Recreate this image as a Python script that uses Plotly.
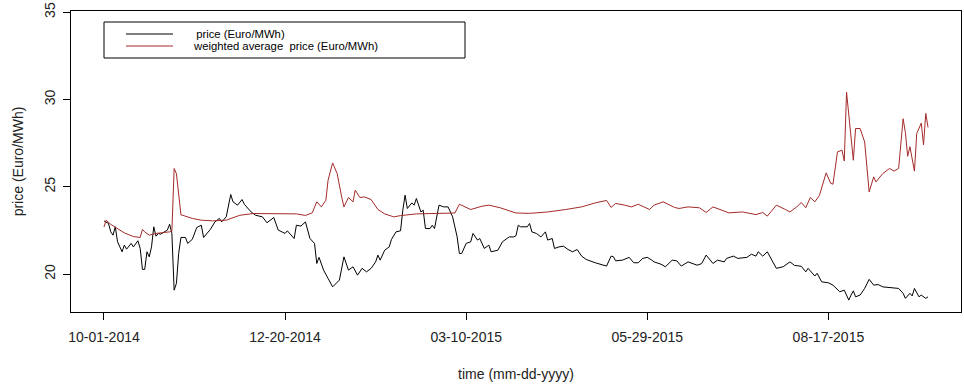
import pandas as pd
import plotly.graph_objects as go

# Daily electricity prices, 10-01-2014 .. 09-30-2015 (days counted from the start date)
start_date = "2014-10-01"

price_days = [0, 2, 3, 4, 5, 6, 8, 9, 10, 12, 13, 15, 16, 17, 18, 19, 20, 21, 22, 23,
              24, 25, 28, 29, 30, 31, 32, 33, 34, 36, 37, 39, 41, 43, 44, 47, 49, 51, 52, 54,
              56, 57, 59, 61, 62, 65, 67, 70, 72, 75, 77, 80, 81, 84, 85, 87, 89, 91, 93, 94,
              95, 97, 99, 101, 104, 106, 108, 110, 112, 114, 116, 118, 120, 121, 122, 124, 126, 127, 129, 131,
              132, 133, 134, 136, 137, 138, 140, 141, 142, 144, 145, 146, 148, 150, 152, 154, 155, 156, 157, 158,
              160, 162, 163, 165, 166, 168, 170, 171, 174, 176, 179, 181, 182, 183, 184, 187, 188, 189, 191, 193,
              195, 196, 198, 199, 201, 203, 205, 207, 209, 211, 213, 217, 222, 224, 225, 226, 229, 232, 234, 236,
              238, 240, 242, 243, 246, 248, 251, 253, 255, 258, 262, 264, 266, 269, 271, 274, 275, 278, 280, 284,
              286, 288, 289, 291, 293, 295, 297, 300, 303, 305, 308, 310, 311, 314, 315, 317, 320, 322, 325, 327,
              329, 330, 331, 332, 334, 336, 338, 340, 342, 344, 347, 351, 353, 354, 356, 357, 358, 360, 361, 363,
              364]
price_values = [23.05, 22.90, 22.42, 22.23, 22.71, 21.85, 21.28, 21.66, 21.43, 21.76, 21.56, 21.91, 21.47, 20.27, 20.27, 21.28, 20.99, 21.56, 22.71, 22.17,
                22.33, 22.29, 22.52, 22.86, 22.33, 19.08, 19.47, 21.18, 22.10, 22.10, 21.76, 21.99, 22.67, 22.80, 22.10, 22.56, 22.99, 23.19, 22.99, 23.28,
                24.56, 24.14, 23.95, 24.27, 24.00, 23.56, 23.37, 23.28, 22.94, 23.24, 22.52, 22.33, 22.48, 22.04, 22.80, 22.75, 22.99, 22.04, 21.76, 20.61,
                20.96, 20.23, 19.75, 19.27, 19.66, 20.99, 20.23, 20.42, 19.94, 20.33, 20.13, 20.33, 20.70, 21.09, 20.80, 21.37, 21.56, 21.99, 22.42, 22.48,
                23.66, 24.52, 23.76, 24.08, 23.95, 24.33, 23.56, 23.66, 22.61, 22.61, 22.80, 22.61, 23.95, 23.85, 23.85, 23.28, 22.71, 22.13, 21.18, 21.18,
                21.76, 21.85, 22.33, 21.95, 22.04, 21.47, 21.66, 21.28, 21.37, 21.85, 22.13, 22.13, 22.20, 22.80, 22.71, 22.71, 22.90, 22.42, 22.33, 22.13,
                22.42, 21.95, 22.04, 21.47, 21.56, 21.60, 21.41, 21.28, 21.41, 21.03, 20.84, 20.65, 20.46, 21.03, 21.00, 20.76, 20.80, 20.96, 20.65, 20.65,
                20.90, 20.96, 20.80, 20.70, 20.57, 20.42, 20.80, 20.76, 20.46, 20.70, 20.51, 20.60, 21.09, 20.61, 20.80, 20.70, 20.90, 21.03, 20.90, 20.96,
                21.14, 21.03, 21.28, 21.03, 21.28, 20.76, 20.33, 20.42, 20.70, 20.50, 20.45, 20.13, 20.33, 19.89, 20.05, 19.56, 19.50, 19.37, 18.99, 19.08,
                18.51, 18.80, 19.04, 18.70, 18.80, 19.18, 19.70, 19.37, 19.40, 19.27, 19.24, 19.18, 18.90, 18.61, 18.90, 18.75, 19.18, 18.70, 18.80, 18.61,
                18.70]

wavg_days = [0, 1, 3, 5, 9, 13, 16, 17, 18, 20, 23, 29, 30, 31, 32, 34, 36, 39, 43, 48,
             54, 60, 66, 85, 89, 92, 94, 96, 98, 99, 101, 103, 105, 106, 108, 110, 111, 113, 115, 118,
             121, 124, 128, 131, 138, 155, 157, 160, 162, 167, 170, 175, 178, 182, 188, 196, 204, 211, 217, 222,
             224, 226, 230, 233, 236, 241, 243, 247, 252, 254, 258, 263, 266, 269, 276, 282, 288, 291, 293, 297,
             301, 303, 306, 308, 310, 312, 314, 316, 319, 321, 322, 324, 326, 327, 328, 331, 332, 334, 336, 338,
             340, 341, 344, 347, 349, 351, 353, 354, 355, 356, 358, 359, 361, 362, 363, 364]
wavg_values = [22.70, 23.09, 22.85, 22.67, 22.36, 22.15, 22.10, 22.56, 22.42, 22.23, 22.33, 22.42, 22.46, 26.05, 25.76, 23.40, 23.30, 23.19, 23.09, 23.05,
               23.09, 23.37, 23.47, 23.45, 23.36, 23.51, 24.14, 23.85, 24.23, 25.38, 26.37, 25.76, 24.42, 23.85, 24.39, 24.14, 24.81, 24.39, 24.42, 24.27,
               23.70, 23.45, 23.28, 23.35, 23.45, 23.50, 24.00, 23.80, 23.70, 23.89, 23.95, 23.80, 23.66, 23.50, 23.48, 23.56, 23.70, 23.85, 24.08, 24.22,
               23.82, 24.05, 23.95, 23.85, 24.00, 23.70, 23.95, 24.14, 23.82, 23.76, 23.85, 23.80, 23.53, 23.85, 23.51, 23.56, 23.41, 23.53, 23.32, 23.95,
               23.70, 23.56, 23.85, 24.10, 23.80, 24.39, 24.14, 24.50, 25.80, 25.20, 25.15, 27.00, 27.10, 26.48, 30.43, 26.52, 28.34, 28.34, 27.57, 24.71,
               25.57, 25.28, 25.76, 26.05, 25.90, 26.05, 28.90, 28.10, 26.75, 27.30, 25.90, 28.05, 28.65, 27.40, 29.20, 28.40]

tick_labels = ["10-01-2014", "12-20-2014", "03-10-2015", "05-29-2015", "08-17-2015"]
y_ticks = [20, 25, 30, 35]

series_names = [" price (Euro/MWh)", "weighted average  price (Euro/MWh)"]
series_colors = ["#000000", "#A52A2A"]

t0 = pd.Timestamp(start_date)
price_dates = t0 + pd.to_timedelta(price_days, unit="D")
wavg_dates = t0 + pd.to_timedelta(wavg_days, unit="D")
tick_dates = pd.to_datetime(tick_labels, format="%m-%d-%Y")

# R-style 4% padding on both ends of the time axis
span = max(price_days[-1], wavg_days[-1])
pad = pd.Timedelta(days=0.04 * span)
x_range = [t0 - pad, t0 + pd.Timedelta(days=span) + pad]

fig = go.Figure()
fig.add_trace(go.Scatter(x=price_dates, y=price_values, mode="lines", name=series_names[0],
                         line=dict(color=series_colors[0], width=1), showlegend=False))
fig.add_trace(go.Scatter(x=wavg_dates, y=wavg_values, mode="lines", name=series_names[1],
                         line=dict(color=series_colors[1], width=1), showlegend=False))

W, H = 964, 385
ml, mr, mt, mb = 71, 3, 11, 73
pw, ph = W - ml - mr, H - mt - mb


def px(x):
    return (x - ml) / pw


def py(y):
    return (H - mb - y) / ph


# Legend box drawn in the upper-left corner of the plot
shapes = [dict(type="rect", xref="paper", yref="paper",
               x0=px(104), x1=px(465), y0=py(58), y1=py(22),
               line=dict(color="black", width=1), fillcolor="white", layer="above")]
annotations = []
for i, (name, col) in enumerate(zip(series_names, series_colors)):
    yy = 34 + 12 * i
    shapes.append(dict(type="line", xref="paper", yref="paper",
                       x0=px(126), x1=px(173), y0=py(yy), y1=py(yy),
                       line=dict(color=col, width=1), layer="above"))
    annotations.append(dict(xref="paper", yref="paper", x=px(192), y=py(yy),
                            xanchor="left", yanchor="middle", showarrow=False,
                            borderpad=0,
                            text=name.replace(" ", "&nbsp;"),
                            font=dict(family="Liberation Sans, Arial", size=11.3, color="black")))

axis_font = dict(family="Liberation Sans, Arial", size=14, color="#222222")

fig.update_layout(
    width=W, height=H,
    margin=dict(l=ml, r=mr, t=mt, b=mb),
    paper_bgcolor="white", plot_bgcolor="white",
    font=axis_font,
    shapes=shapes, annotations=annotations,
    xaxis=dict(type="date", range=x_range, tickvals=tick_dates, ticktext=tick_labels,
               showgrid=False, zeroline=False, showline=True, mirror=True,
               linecolor="black", linewidth=1, ticks="outside", ticklen=7,
               tickcolor="black", tickfont=axis_font, ticklabelstandoff=5,
               title=dict(text="time (mm-dd-yyyy)", font=axis_font, standoff=25)),
    yaxis=dict(range=[17.83, 35.07], tickvals=y_ticks, tickangle=-90,
               showgrid=False, zeroline=False, showline=True, mirror=True,
               linecolor="black", linewidth=1, ticks="outside", ticklen=7,
               tickcolor="black", tickfont=axis_font, ticklabelstandoff=2,
               title=dict(text="price (Euro/MWh)", font=axis_font, standoff=15)),
)

fig.write_html("out.html")
